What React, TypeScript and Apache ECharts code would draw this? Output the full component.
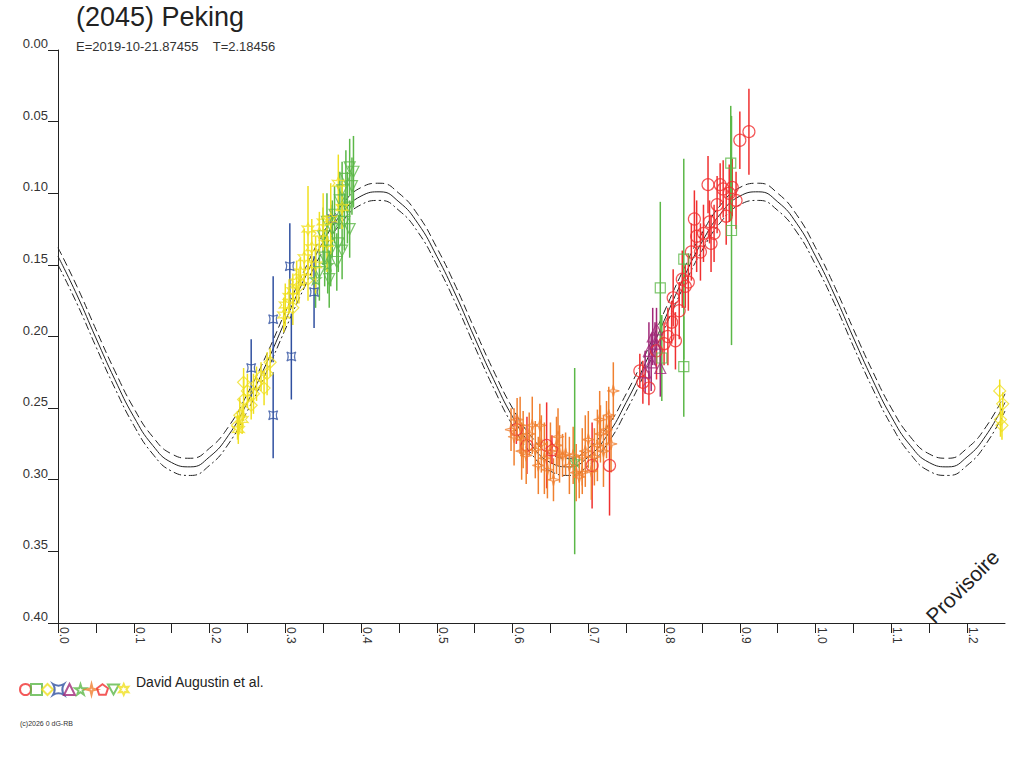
import { useEffect, useRef } from 'react';
import * as echarts from 'echarts';

// fitted curve, sampled every 0.025 in phase
const fitPhase = [
  0, 0.025, 0.05, 0.075, 0.1, 0.125, 0.15, 0.175, 0.2, 0.225, 0.25, 0.275, 0.3, 0.325, 0.35, 0.375, 0.4, 0.425, 0.45, 0.475,
  0.5, 0.525, 0.55, 0.575, 0.6, 0.625, 0.65, 0.675, 0.7, 0.725, 0.75, 0.775, 0.8, 0.825, 0.85, 0.875, 0.9, 0.925, 0.95, 0.975,
  1.0, 1.025, 1.05, 1.075, 1.1, 1.125, 1.15, 1.175, 1.2, 1.225, 1.25,
];
const fitMid = [
  0.144, 0.171, 0.201, 0.23, 0.256, 0.276, 0.288, 0.291, 0.284, 0.269, 0.246, 0.219, 0.189, 0.16, 0.134, 0.114, 0.102, 0.099, 0.106, 0.121,
  0.144, 0.171, 0.201, 0.23, 0.256, 0.276, 0.288, 0.291, 0.284, 0.269, 0.246, 0.219, 0.189, 0.16, 0.134, 0.114, 0.102, 0.099, 0.106, 0.121,
  0.144, 0.171, 0.201, 0.23, 0.256, 0.276, 0.288, 0.291, 0.284, 0.269, 0.246,
];
const fitUpper = [
  0.138, 0.165, 0.195, 0.224, 0.25, 0.27, 0.282, 0.285, 0.278, 0.263, 0.24, 0.213, 0.183, 0.154, 0.128, 0.108, 0.096, 0.093, 0.1, 0.115,
  0.138, 0.165, 0.195, 0.224, 0.25, 0.27, 0.282, 0.285, 0.278, 0.263, 0.24, 0.213, 0.183, 0.154, 0.128, 0.108, 0.096, 0.093, 0.1, 0.115,
  0.138, 0.165, 0.195, 0.224, 0.25, 0.27, 0.282, 0.285, 0.278, 0.263, 0.24,
];
const fitLower = [
  0.15, 0.177, 0.207, 0.236, 0.262, 0.282, 0.294, 0.297, 0.29, 0.275, 0.252, 0.225, 0.195, 0.166, 0.14, 0.12, 0.108, 0.105, 0.112, 0.127,
  0.15, 0.177, 0.207, 0.236, 0.262, 0.282, 0.294, 0.297, 0.29, 0.275, 0.252, 0.225, 0.195, 0.166, 0.14, 0.12, 0.108, 0.105, 0.112, 0.127,
  0.15, 0.177, 0.207, 0.236, 0.262, 0.282, 0.294, 0.297, 0.29, 0.275, 0.252,
];

// [phase, mag, error]
const redCircles = [
  [0.768, 0.224, 0.012], [0.772, 0.232, 0.015], [0.78, 0.236, 0.012], [0.79, 0.21, 0.02], [0.8, 0.205, 0.015],
  [0.805, 0.2, 0.02], [0.81, 0.19, 0.015], [0.812, 0.173, 0.02], [0.815, 0.203, 0.02], [0.82, 0.182, 0.02],
  [0.824, 0.16, 0.02], [0.828, 0.165, 0.015], [0.832, 0.162, 0.02], [0.836, 0.141, 0.02], [0.84, 0.118, 0.02],
  [0.843, 0.13, 0.025], [0.848, 0.141, 0.02], [0.852, 0.128, 0.02], [0.858, 0.094, 0.02], [0.862, 0.135, 0.02],
  [0.866, 0.128, 0.02], [0.87, 0.108, 0.02], [0.874, 0.094, 0.015], [0.878, 0.097, 0.02], [0.882, 0.116, 0.02],
  [0.886, 0.1, 0.02], [0.89, 0.096, 0.02], [0.895, 0.105, 0.02], [0.9, 0.063, 0.02], [0.912, 0.057, 0.03],
  [0.86, 0.12, 0.015], [0.619, 0.276, 0.02], [0.645, 0.276, 0.03], [0.705, 0.29, 0.03], [0.728, 0.29, 0.035],
  [0.605, 0.265, 0.01],
];
const greenSquares = [[0.795, 0.166, 0.06], [0.797, 0.215, 0.03], [0.826, 0.146, 0.07], [0.826, 0.221, 0.035], [0.888, 0.079, 0.04], [0.889, 0.126, 0.08]];
const yellowDiamonds = [
  [0.237, 0.262, 0.01], [0.24, 0.255, 0.012], [0.245, 0.244, 0.015], [0.25, 0.238, 0.012], [0.255, 0.248, 0.01],
  [0.258, 0.24, 0.014], [0.262, 0.233, 0.012], [0.268, 0.228, 0.01], [0.272, 0.236, 0.012], [0.276, 0.226, 0.015],
  [0.28, 0.218, 0.01], [0.245, 0.232, 0.01], [0.31, 0.18, 0.012], [0.318, 0.165, 0.012], [0.33, 0.16, 0.015],
  [1.243, 0.238, 0.008], [1.247, 0.247, 0.008], [1.244, 0.258, 0.012], [1.246, 0.262, 0.01],
];
const blueCrosses = [[0.306, 0.151, 0.03], [0.284, 0.188, 0.03], [0.308, 0.214, 0.03], [0.255, 0.222, 0.02], [0.284, 0.255, 0.03], [0.338, 0.169, 0.025], [0.362, 0.118, 0.01]];
const purpleTriangles = [[0.775, 0.225, 0.015], [0.78, 0.21, 0.02], [0.785, 0.2, 0.02], [0.79, 0.195, 0.015], [0.783, 0.218, 0.02], [0.795, 0.222, 0.02], [0.788, 0.205, 0.015]];
const greenStars = [[0.34, 0.16, 0.02], [0.356, 0.15, 0.02], [0.682, 0.287, 0.065]];
const orangeStars = [
  [0.598, 0.265, 0.015], [0.602, 0.27, 0.02], [0.606, 0.258, 0.015], [0.61, 0.262, 0.02], [0.614, 0.272, 0.02],
  [0.618, 0.283, 0.02], [0.622, 0.268, 0.015], [0.626, 0.262, 0.02], [0.63, 0.279, 0.02], [0.634, 0.29, 0.02],
  [0.638, 0.275, 0.02], [0.642, 0.285, 0.025], [0.646, 0.293, 0.02], [0.65, 0.28, 0.02], [0.654, 0.3, 0.015],
  [0.658, 0.276, 0.02], [0.662, 0.282, 0.02], [0.666, 0.283, 0.015], [0.67, 0.282, 0.015], [0.675, 0.29, 0.02],
  [0.68, 0.283, 0.02], [0.684, 0.295, 0.02], [0.688, 0.298, 0.015], [0.692, 0.284, 0.02], [0.696, 0.28, 0.025],
  [0.7, 0.272, 0.02], [0.704, 0.294, 0.02], [0.708, 0.284, 0.02], [0.712, 0.276, 0.025], [0.716, 0.268, 0.02],
  [0.72, 0.28, 0.025], [0.724, 0.265, 0.02], [0.727, 0.255, 0.02], [0.73, 0.275, 0.02], [0.733, 0.238, 0.02],
  [0.636, 0.262, 0.015], [0.612, 0.28, 0.02], [0.692, 0.295, 0.015], [0.715, 0.258, 0.02], [0.66, 0.27, 0.02],
];
const redPentagons = [[0.652, 0.279, 0.01]];
const greenDownTriangles = [
  [0.35, 0.13, 0.02], [0.355, 0.12, 0.02], [0.36, 0.14, 0.025], [0.362, 0.125, 0.02], [0.365, 0.115, 0.02],
  [0.37, 0.135, 0.02], [0.372, 0.105, 0.02], [0.375, 0.098, 0.02], [0.378, 0.12, 0.02], [0.38, 0.09, 0.02],
  [0.382, 0.11, 0.025], [0.385, 0.082, 0.02], [0.388, 0.095, 0.02], [0.39, 0.085, 0.025], [0.385, 0.125, 0.02],
  [0.368, 0.148, 0.02], [0.345, 0.155, 0.02], [0.352, 0.145, 0.02], [0.358, 0.16, 0.02], [0.375, 0.14, 0.02],
];
const yellowStars6 = [
  [0.238, 0.265, 0.01], [0.243, 0.258, 0.01], [0.298, 0.185, 0.012], [0.3, 0.178, 0.015], [0.305, 0.172, 0.012],
  [0.31, 0.168, 0.012], [0.315, 0.162, 0.015], [0.32, 0.155, 0.01], [0.325, 0.145, 0.02], [0.33, 0.125, 0.03],
  [0.335, 0.138, 0.02], [0.34, 0.15, 0.02], [0.345, 0.128, 0.015], [0.35, 0.12, 0.02], [0.36, 0.118, 0.025],
  [0.37, 0.093, 0.02], [0.375, 0.11, 0.015], [0.355, 0.135, 0.02],
];

const groups = [
  { name: 'g1', data: redCircles, color: '#f03030', symbol: 'circle', size: 12 },
  { name: 'g2', data: greenSquares, color: '#5cb848', symbol: 'rect', size: 10 },
  { name: 'g3', data: yellowDiamonds, color: '#f0e020', symbol: 'diamond', size: 12 },
  { name: 'g4', data: blueCrosses, color: '#3050a0', symbol: 'path://M0,0 Q50,30 100,0 Q70,50 100,100 Q50,70 0,100 Q30,50 0,0 Z', size: 9 },
  { name: 'g5', data: purpleTriangles, color: '#a02878', symbol: 'triangle', size: 11 },
  { name: 'g6', data: greenStars, color: '#5cb848', symbol: 'path://M50,0 L61,35 L98,35 L68,57 L79,91 L50,70 L21,91 L32,57 L2,35 L39,35 Z', size: 11 },
  { name: 'g7', data: orangeStars, color: '#f08030', symbol: 'path://M50,0 L60,40 L100,50 L60,60 L50,100 L40,60 L0,50 L40,40 Z', size: 12 },
  { name: 'g8', data: redPentagons, color: '#f03030', symbol: 'path://M50,0 L98,35 L79,91 L21,91 L2,35 Z', size: 12 },
  { name: 'g9', data: greenDownTriangles, color: '#5cb848', symbol: 'path://M0,0 L100,0 L50,90 Z', size: 11 },
  { name: 'g10', data: yellowStars6, color: '#f0e020', symbol: 'path://M50,0 L62,28 L93,25 L75,50 L93,75 L62,72 L50,100 L38,72 L7,75 L25,50 L7,25 L38,28 Z', size: 12 },
];

const FONT = 'Liberation Sans';

const App = () => {
  const chartRef = useRef<HTMLDivElement>(null);

  useEffect(() => {
    document.body.style.margin = '0';
    if (!chartRef.current) return;
    const chart = echarts.init(chartRef.current, undefined, { renderer: 'svg' });

    const series: any[] = [];
    const lineStyles: [number[], any][] = [
      [fitUpper, [8, 4]],
      [fitMid, 'solid'],
      [fitLower, [8, 3, 2, 3]],
    ];
    lineStyles.forEach(([vals, type]) => {
      series.push({
        type: 'line',
        data: fitPhase.map((p, i) => [p, vals[i]]),
        smooth: true,
        symbol: 'none',
        silent: true,
        lineStyle: { color: '#222', width: 1, type },
        z: 1,
      });
    });
    groups.forEach((g) => {
      series.push({
        type: 'custom',
        data: g.data,
        silent: true,
        renderItem: (_p: any, api: any) => {
          const x = api.value(0);
          const y = api.value(1);
          const e = api.value(2);
          const a = api.coord([x, y - e]);
          const b = api.coord([x, y + e]);
          return {
            type: 'line',
            shape: { x1: a[0], y1: a[1], x2: b[0], y2: b[1] },
            style: { stroke: g.color, lineWidth: 1.5 },
          };
        },
        z: 2,
      });
      series.push({
        name: g.name,
        type: 'scatter',
        data: g.data.map((d) => [d[0], d[1]]),
        symbol: g.symbol,
        symbolSize: g.size,
        itemStyle: { color: 'rgba(255,255,255,0)', borderColor: g.color, borderWidth: 1.2 },
        z: 3,
      });
    });

    chart.setOption({
      animation: false,
      textStyle: { fontFamily: FONT },
      grid: { left: 58, right: 19, top: 50, bottom: 145 },
      legend: {
        left: 14,
        top: 678,
        itemWidth: 11,
        itemHeight: 11,
        itemGap: -2,
        data: groups.map((g) => g.name),
        formatter: () => '',
        textStyle: { fontSize: 1 },
        selectedMode: false,
      },
      xAxis: {
        type: 'value',
        min: 0,
        max: 1.25,
        interval: 0.05,
        splitLine: { show: false },
        axisLine: { onZero: false, lineStyle: { color: '#222' } },
        axisTick: { length: 10, lineStyle: { color: '#222' } },
        axisLabel: {
          rotate: -90,
          color: '#333',
          fontSize: 12,
          margin: 4,
          verticalAlign: 'bottom',
          showMaxLabel: false,
          formatter: (v: number) => (Math.round(v * 100) % 10 === 0 ? v.toFixed(1) : ''),
        },
      },
      yAxis: {
        type: 'value',
        inverse: true,
        min: 0,
        max: 0.4,
        interval: 0.05,
        splitLine: { show: false },
        axisLine: { show: true, lineStyle: { color: '#222' } },
        axisTick: { length: 10, lineStyle: { color: '#222' } },
        axisLabel: {
          color: '#333',
          fontSize: 13,
          margin: 10,
          verticalAlign: 'bottom',
          formatter: (v: number) => v.toFixed(2),
        },
      },
      graphic: [
        { type: 'text', left: 76, top: 3, style: { text: '(2045) Peking', fontSize: 27, fill: '#222', fontFamily: FONT } },
        { type: 'text', left: 76, top: 40, style: { text: 'E=2019-10-21.87455    T=2.18456', fontSize: 13, fill: '#333', fontFamily: FONT } },
        { type: 'text', left: 136, top: 675, style: { text: 'David Augustin et al.', fontSize: 14, fill: '#222', fontFamily: FONT } },
        { type: 'text', left: 20, top: 720, style: { text: '(c)2026 0 dG-RB', fontSize: 7, fill: '#333', fontFamily: FONT } },
        { type: 'text', x: 922, y: 612, rotation: Math.PI / 4, style: { text: 'Provisoire', fontSize: 21, fill: '#222', fontFamily: FONT } },
      ],
      series,
    });

    return () => chart.dispose();
  }, []);

  return <div ref={chartRef} style={{ width: 1024, height: 768 }} />;
};

export default App;
